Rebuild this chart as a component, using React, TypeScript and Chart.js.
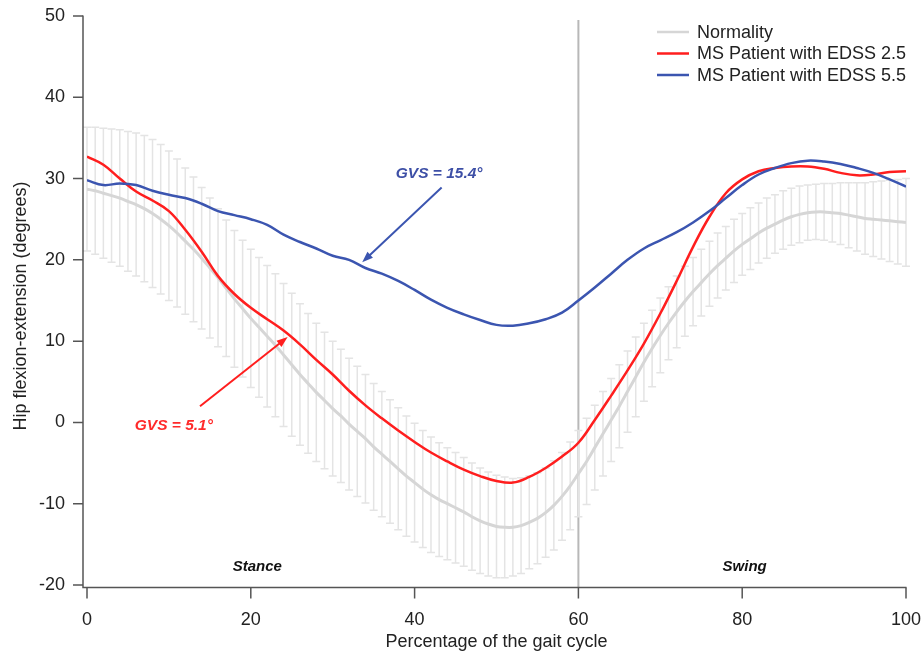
import React, { useEffect, useRef } from "react";
import { Chart, registerables } from "chart.js";

Chart.register(...registerables);

// ---------- DATA ----------
// Normality mean curve (every 1 % of the gait cycle, 0..100)
const NORMAL_MEAN = [
  28.7, 28.5, 28.2, 27.9, 27.6, 27.2, 26.8, 26.3, 25.7, 25.0,
  24.2, 23.3, 22.3, 21.3, 20.2, 19.0, 17.8, 16.5, 15.2, 14.0,
  12.8, 11.7, 10.6, 9.5, 8.3, 7.1, 5.9, 4.8, 3.7, 2.7,
  1.7, 0.8, -0.2, -1.1, -2.0, -3.0, -3.9, -4.8, -5.7, -6.6,
  -7.4, -8.2, -8.9, -9.5, -10.0, -10.5, -11.0, -11.6, -12.1, -12.5,
  -12.8, -12.9, -12.9, -12.7, -12.3, -11.8, -11.1, -10.2, -9.1, -7.8,
  -6.3, -4.8, -3.1, -1.4, 0.3, 2.0, 3.8, 5.6, 7.4, 9.1,
  10.7, 12.2, 13.6, 14.9, 16.1, 17.2, 18.3, 19.3, 20.2, 21.1,
  21.9, 22.6, 23.3, 23.9, 24.4, 24.9, 25.3, 25.6, 25.8, 25.9,
  25.9, 25.8, 25.7, 25.5, 25.3, 25.1, 25.0, 24.9, 24.8, 24.7,
  24.6,
];
// Normality standard deviation (every 1 %)
const NORMAL_SD = [
  7.6, 7.8, 8.0, 8.2, 8.4, 8.6, 8.8, 9.0, 9.1, 9.2,
  9.2, 9.1, 9.0, 8.9, 8.7, 8.6, 8.5, 8.4, 8.4, 8.4,
  8.5, 8.6, 8.7, 8.8, 8.8, 8.8, 8.7, 8.6, 8.5, 8.4,
  8.3, 8.2, 8.1, 8.0, 7.9, 7.8, 7.7, 7.6, 7.5, 7.4,
  7.3, 7.2, 7.1, 7.0, 6.9, 6.8, 6.7, 6.6, 6.5, 6.4,
  6.3, 6.2, 6.0, 5.9, 5.7, 5.6, 5.5, 5.5, 5.4, 5.4,
  5.3, 5.3, 5.2, 5.2, 5.1, 5.1, 5.0, 4.9, 4.8, 4.7,
  4.6, 4.5, 4.4, 4.3, 4.2, 4.1, 4.0, 4.0, 3.9, 3.9,
  3.8, 3.8, 3.7, 3.7, 3.6, 3.6, 3.5, 3.5, 3.4, 3.4,
  3.5, 3.6, 3.8, 4.0, 4.2, 4.4, 4.6, 4.8, 5.0, 5.2,
  5.4,
];
// MS patients (every 2 % of the gait cycle, 0..100)
const EDSS_25 = [
  32.7, 31.7, 30.0, 28.4, 27.3, 26.0, 23.7, 21.0, 18.0, 15.8,
  14.1, 12.7, 11.3, 9.6, 7.7, 5.9, 3.9, 2.1, 0.5, -1.0,
  -2.4, -3.7, -4.8, -5.8, -6.6, -7.2, -7.4, -6.7, -5.6, -4.2,
  -2.5, 0.3, 3.3, 6.4, 9.7, 13.4, 17.4, 21.6, 25.3, 28.2,
  29.9, 30.9, 31.3, 31.5, 31.5, 31.2, 30.7, 30.4, 30.5, 30.8,
  30.9,
];
const EDSS_55 = [
  29.8, 29.2, 29.4, 29.2, 28.5, 28.0, 27.6, 26.9, 26.0, 25.5,
  25.0, 24.3, 23.1, 22.2, 21.4, 20.5, 20.0, 19.0, 18.3, 17.4,
  16.3, 15.1, 14.1, 13.3, 12.6, 12.0, 11.9, 12.2, 12.7, 13.5,
  15.0, 16.6, 18.3, 20.0, 21.4, 22.4, 23.4, 24.6, 26.0, 27.6,
  29.2, 30.5, 31.3, 31.9, 32.2, 32.1, 31.8, 31.3, 30.7, 29.9,
  29.0,
];
const SERIES_LABELS = ["Normality", "MS Patient with EDSS 2.5", "MS Patient with EDSS 5.5"];
const X_TITLE = "Percentage of the gait cycle";
const Y_TITLE = "Hip flexion-extension (degrees)";
const STANCE_END = 60;
const GVS_LABELS = ["GVS = 5.1°", "GVS = 15.4°"];
const PHASE_LABELS = ["Stance", "Swing"];

// ---------- STYLE / LAYOUT ----------
const COLORS = {
  normal: "#d6d6d6",
  sd: "#e4e4e4",
  red: "#ff1e1e",
  blue: "#3b55b0",
  redText: "#ff2a2a",
  blueText: "#3d4fa6",
  axis: "#555555",
  text: "#222222",
  divider: "#b8b8b8",
};
const FONT = "'Liberation Sans', Arial, Helvetica, sans-serif";

// annotation placements in data coordinates
const ANNOT = {
  red: { text: [10.6, -0.4], from: [13.8, 2.0], to: [24.5, 10.5] },
  blue: { text: [43.0, 30.6], from: [43.3, 28.9], to: [33.6, 19.7] },
  phase: [[20.8, -17.8], [80.3, -17.8]],
};

function drawArrow(ctx: CanvasRenderingContext2D, x1: number, y1: number, x2: number, y2: number, color: string) {
  const ang = Math.atan2(y2 - y1, x2 - x1);
  const head = 11;
  const half = 4;
  ctx.strokeStyle = color;
  ctx.fillStyle = color;
  ctx.lineWidth = 2;
  ctx.beginPath();
  ctx.moveTo(x1, y1);
  ctx.lineTo(x2 - Math.cos(ang) * head * 0.8, y2 - Math.sin(ang) * head * 0.8);
  ctx.stroke();
  ctx.beginPath();
  ctx.moveTo(x2, y2);
  ctx.lineTo(x2 - Math.cos(ang) * head - Math.sin(ang) * half, y2 - Math.sin(ang) * head + Math.cos(ang) * half);
  ctx.lineTo(x2 - Math.cos(ang) * head + Math.sin(ang) * half, y2 - Math.sin(ang) * head - Math.cos(ang) * half);
  ctx.closePath();
  ctx.fill();
}

const gaitPlugin = {
  id: "gaitPlugin",
  beforeDatasetsDraw(chart: any) {
    const { ctx, scales } = chart;
    const x = scales.x;
    const y = scales.y;
    ctx.save();
    // stance / swing divider
    const px = x.getPixelForValue(STANCE_END);
    ctx.strokeStyle = COLORS.divider;
    ctx.lineWidth = 2;
    ctx.beginPath();
    ctx.moveTo(px, y.getPixelForValue(y.max) + 4);
    ctx.lineTo(px, y.getPixelForValue(y.min) + 2);
    ctx.stroke();
    // SD error bars
    ctx.strokeStyle = COLORS.sd;
    ctx.lineWidth = 1.5;
    for (let i = 0; i < NORMAL_MEAN.length; i++) {
      const bx = x.getPixelForValue(i);
      const top = y.getPixelForValue(NORMAL_MEAN[i] + NORMAL_SD[i]);
      const bot = y.getPixelForValue(NORMAL_MEAN[i] - NORMAL_SD[i]);
      ctx.beginPath();
      ctx.moveTo(bx, top);
      ctx.lineTo(bx, bot);
      ctx.moveTo(bx - 4, top);
      ctx.lineTo(bx + 4, top);
      ctx.moveTo(bx - 4, bot);
      ctx.lineTo(bx + 4, bot);
      ctx.stroke();
    }
    ctx.restore();
  },
  afterDraw(chart: any) {
    const { ctx, scales, chartArea } = chart;
    const x = scales.x;
    const y = scales.y;
    ctx.save();
    // axes (offset Igor-style)
    const axX = chartArea.left - 4;
    const axY = chartArea.bottom + 2.5;
    ctx.strokeStyle = COLORS.axis;
    ctx.lineWidth = 1.5;
    ctx.beginPath();
    ctx.moveTo(axX, y.getPixelForValue(y.max) - 0.5);
    ctx.lineTo(axX, axY);
    ctx.lineTo(x.getPixelForValue(x.max) + 0.5, axY);
    ctx.stroke();
    ctx.beginPath();
    y.ticks.forEach((t: any) => {
      const py = y.getPixelForValue(t.value);
      ctx.moveTo(axX - 10, py);
      ctx.lineTo(axX, py);
    });
    x.ticks.forEach((t: any) => {
      const ppx = x.getPixelForValue(t.value);
      ctx.moveTo(ppx, axY);
      ctx.lineTo(ppx, axY + 11);
    });
    ctx.stroke();

    // axis titles
    ctx.fillStyle = COLORS.text;
    ctx.font = `18px ${FONT}`;
    ctx.textAlign = "center";
    ctx.textBaseline = "middle";
    ctx.fillText(X_TITLE, (chartArea.left + chartArea.right) / 2, 642);
    ctx.save();
    ctx.translate(21, 306);
    ctx.rotate(-Math.PI / 2);
    ctx.fillText(Y_TITLE, 0, 0);
    ctx.restore();

    // legend
    const legendColors = [COLORS.normal, COLORS.red, COLORS.blue];
    ctx.textAlign = "left";
    ctx.font = `18px ${FONT}`;
    SERIES_LABELS.forEach((lab, i) => {
      const ly = 32 + i * 21.5;
      ctx.strokeStyle = legendColors[i];
      ctx.lineWidth = 2.5;
      ctx.beginPath();
      ctx.moveTo(657, ly);
      ctx.lineTo(689, ly);
      ctx.stroke();
      ctx.fillStyle = COLORS.text;
      ctx.fillText(lab, 697, ly + 1);
    });

    // GVS annotations
    const P = (v: number[]) => [x.getPixelForValue(v[0]), y.getPixelForValue(v[1])];
    const rf = P(ANNOT.red.from), rt = P(ANNOT.red.to);
    drawArrow(ctx, rf[0], rf[1], rt[0], rt[1], COLORS.red);
    const bf = P(ANNOT.blue.from), bt = P(ANNOT.blue.to);
    drawArrow(ctx, bf[0], bf[1], bt[0], bt[1], COLORS.blue);
    ctx.font = `italic bold 15.5px ${FONT}`;
    ctx.textAlign = "center";
    const rtx = P(ANNOT.red.text);
    ctx.fillStyle = COLORS.redText;
    ctx.fillText(GVS_LABELS[0], rtx[0], rtx[1]);
    const btx = P(ANNOT.blue.text);
    ctx.fillStyle = COLORS.blueText;
    ctx.fillText(GVS_LABELS[1], btx[0], btx[1]);

    // phase labels
    ctx.font = `italic bold 15px ${FONT}`;
    ctx.fillStyle = "#111";
    ANNOT.phase.forEach((p, i) => {
      const pp = P(p);
      ctx.fillText(PHASE_LABELS[i], pp[0], pp[1]);
    });
    ctx.restore();
  },
};

export default function App() {
  const ref = useRef<HTMLCanvasElement | null>(null);
  useEffect(() => {
    if (!ref.current) return;
    const meanPts = NORMAL_MEAN.map((v, i) => ({ x: i, y: v }));
    const redPts = EDSS_25.map((v, i) => ({ x: i * 2, y: v }));
    const bluePts = EDSS_55.map((v, i) => ({ x: i * 2, y: v }));
    const tickFont = { family: FONT, size: 18 };
    const chart = new Chart(ref.current, {
      type: "line",
      data: {
        datasets: [
          { label: SERIES_LABELS[0], data: meanPts, borderColor: COLORS.normal, borderWidth: 3, tension: 0.3, pointRadius: 0, order: 3 },
          { label: SERIES_LABELS[1], data: redPts, borderColor: COLORS.red, borderWidth: 2.5, tension: 0.4, pointRadius: 0, order: 2 },
          { label: SERIES_LABELS[2], data: bluePts, borderColor: COLORS.blue, borderWidth: 2.5, tension: 0.4, pointRadius: 0, order: 1 },
        ],
      },
      options: {
        responsive: false,
        animation: false,
        layout: { padding: { left: 0, right: 15, top: 16, bottom: 0 } },
        plugins: { legend: { display: false }, tooltip: { enabled: false } },
        scales: {
          x: {
            type: "linear",
            min: 0,
            max: 100,
            ticks: { stepSize: 20, padding: 24, color: COLORS.text, font: tickFont, maxRotation: 0 },
            grid: { display: false, drawTicks: false },
            border: { display: false },
            afterFit: (s: any) => { s.height = 72; s.paddingLeft = 0; s.paddingRight = 0; },
          },
          y: {
            type: "linear",
            min: -20,
            max: 50,
            ticks: { stepSize: 10, padding: 22, color: COLORS.text, font: tickFont },
            grid: { display: false, drawTicks: false },
            border: { display: false },
            afterFit: (s: any) => { s.width = 87; s.paddingTop = 0; s.paddingBottom = 0; },
          },
        },
      },
      plugins: [gaitPlugin],
    } as any);
    return () => chart.destroy();
  }, []);
  return (
    <div style={{ position: "fixed", left: 0, top: 0, width: 921, height: 657, background: "#fff" }}>
      <canvas ref={ref} width={921} height={657} style={{ width: 921, height: 657, display: "block" }} />
    </div>
  );
}
